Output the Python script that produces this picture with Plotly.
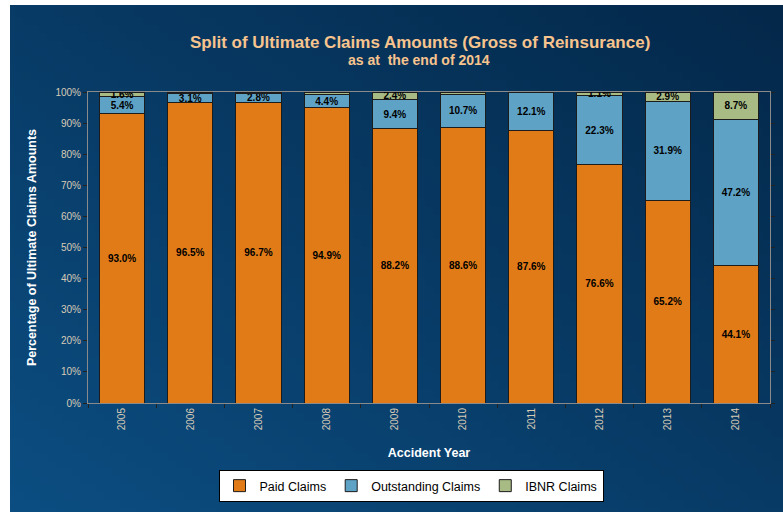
import base64
import struct
import zlib

import numpy as np
import plotly.graph_objects as go

# Accident years and the percentage split of ultimate claims
years = ["2005", "2006", "2007", "2008", "2009", "2010", "2011", "2012", "2013", "2014"]
paid = [93.0, 96.5, 96.7, 94.9, 88.2, 88.6, 87.6, 76.6, 65.2, 44.1]
outstanding = [5.4, 3.1, 2.8, 4.4, 9.4, 10.7, 12.1, 22.3, 31.9, 47.2]
ibnr = [1.6, 0.4, 0.5, 0.7, 2.4, 0.7, 0.3, 1.1, 2.9, 8.7]
# IBNR shares too thin to carry a label
ibnr_labelled = [True, False, False, False, True, False, False, True, True, True]

paid_text = [f"{v:.1f}%" for v in paid]
out_text = [f"{v:.1f}%" for v in outstanding]
ibnr_text = [f"{v:.1f}%" if show else "" for v, show in zip(ibnr, ibnr_labelled)]


def gradient_png(w, h, c_light, c_dark):
    """Diagonal navy gradient (lighter bottom-left, darker top-right) as a PNG data URI."""
    yy, xx = np.mgrid[0:h, 0:w]
    t = (xx / (w - 1) + (1 - yy / (h - 1))) / 2.0
    a = np.array(c_light, float)
    b = np.array(c_dark, float)
    img = (a[None, None, :] * (1 - t[..., None]) + b[None, None, :] * t[..., None]).astype(np.uint8)
    raw = b"".join(b"\x00" + img[r].tobytes() for r in range(h))

    def chunk(tag, data):
        c = struct.pack(">I", len(data)) + tag + data
        return c + struct.pack(">I", zlib.crc32(tag + data) & 0xFFFFFFFF)

    png = b"\x89PNG\r\n\x1a\n"
    png += chunk(b"IHDR", struct.pack(">IIBBBBB", w, h, 8, 2, 0, 0, 0))
    png += chunk(b"IDAT", zlib.compress(raw, 9))
    png += chunk(b"IEND", b"")
    return "data:image/png;base64," + base64.b64encode(png).decode()


FONT = "Liberation Sans, Arial, sans-serif"
TICK_COLOR = "#d8cbb6"
edge = dict(color="#1c1c1c", width=1)
label_font = dict(family=FONT, size=10, color="black", weight="bold")

fig = go.Figure()
fig.add_trace(go.Bar(
    x=years, y=paid, name="Paid Claims", text=paid_text,
    marker=dict(color="#e07b18", line=edge),
))
fig.add_trace(go.Bar(
    x=years, y=outstanding, name="Outstanding Claims", text=out_text,
    marker=dict(color="#5ea2c6", line=edge),
))
fig.add_trace(go.Bar(
    x=years, y=ibnr, name="IBNR Claims", text=ibnr_text,
    marker=dict(color="#a9bb85", line=edge),
))
fig.update_traces(
    textposition="inside", insidetextanchor="middle", constraintext="none",
    textfont=label_font, cliponaxis=True, hoverinfo="x+y+name",
)

# Plot area spans pixels x 88..770, y 92..403 of the 783x512 canvas
L, R, T, B = 88, 13, 92, 109
W, H = 783, 512
pw, ph = W - L - R, H - T - B

bg = gradient_png(96, 64, (12, 78, 130), (4, 40, 74))

fig.update_layout(
    width=W, height=H,
    margin=dict(l=L, r=R, t=T, b=B, autoexpand=False),
    barmode="stack",
    bargap=0.34,
    paper_bgcolor="white",
    plot_bgcolor="white",
    font=dict(family=FONT, color="white"),
    showlegend=True,
    legend=dict(
        orientation="h", x=(411 - L) / pw, xanchor="center",
        y=(H - B - 470) / ph, yanchor="top",
        bgcolor="white", bordercolor="black", borderwidth=1,
        font=dict(family=FONT, size=12.5, color="black"),
        itemwidth=30,
        traceorder="normal",
    ),
    images=[dict(
        source=bg, xref="paper", yref="paper",
        x=(10 - L) / pw, y=(H - B - 5) / ph,
        sizex=(W - 10) / pw, sizey=(H - 5) / ph,
        sizing="stretch", xanchor="left", yanchor="top", layer="below",
    )],
    annotations=[
        dict(text="Split of Ultimate Claims Amounts (Gross of Reinsurance)",
             xref="paper", yref="paper", x=(420 - L) / pw, y=(H - B - 42) / ph,
             xanchor="center", yanchor="middle", showarrow=False,
             font=dict(family=FONT, size=17, color="#f7c48e", weight="bold")),
        dict(text="as at\u00a0 the end of 2014",
             xref="paper", yref="paper", x=(419 - L) / pw, y=(H - B - 60) / ph,
             xanchor="center", yanchor="middle", showarrow=False,
             font=dict(family=FONT, size=14, color="#f7c48e", weight="bold")),
    ],
)

fig.update_xaxes(
    type="category", tickangle=-90,
    tickfont=dict(family=FONT, size=10, color=TICK_COLOR),
    ticks="outside", tickson="boundaries", ticklen=4, tickcolor="#222222",
    showline=True, linecolor="#8a8a8a", linewidth=1, mirror=True,
    showgrid=False,
    title=dict(text="Accident Year", standoff=18,
               font=dict(family=FONT, size=12.5, color="white", weight="bold")),
)
fig.update_yaxes(
    range=[0, 100], dtick=10, ticksuffix="%",
    tickfont=dict(family=FONT, size=10, color=TICK_COLOR),
    ticks="outside", ticklen=4, tickcolor="#222222",
    showline=True, linecolor="#8a8a8a", linewidth=1, mirror="ticks",
    showgrid=False, zeroline=False,
    title=dict(text="Percentage of Ultimate Claims Amounts", standoff=16,
               font=dict(family=FONT, size=12.5, color="white", weight="bold")),
)

fig.write_html("out.html")
